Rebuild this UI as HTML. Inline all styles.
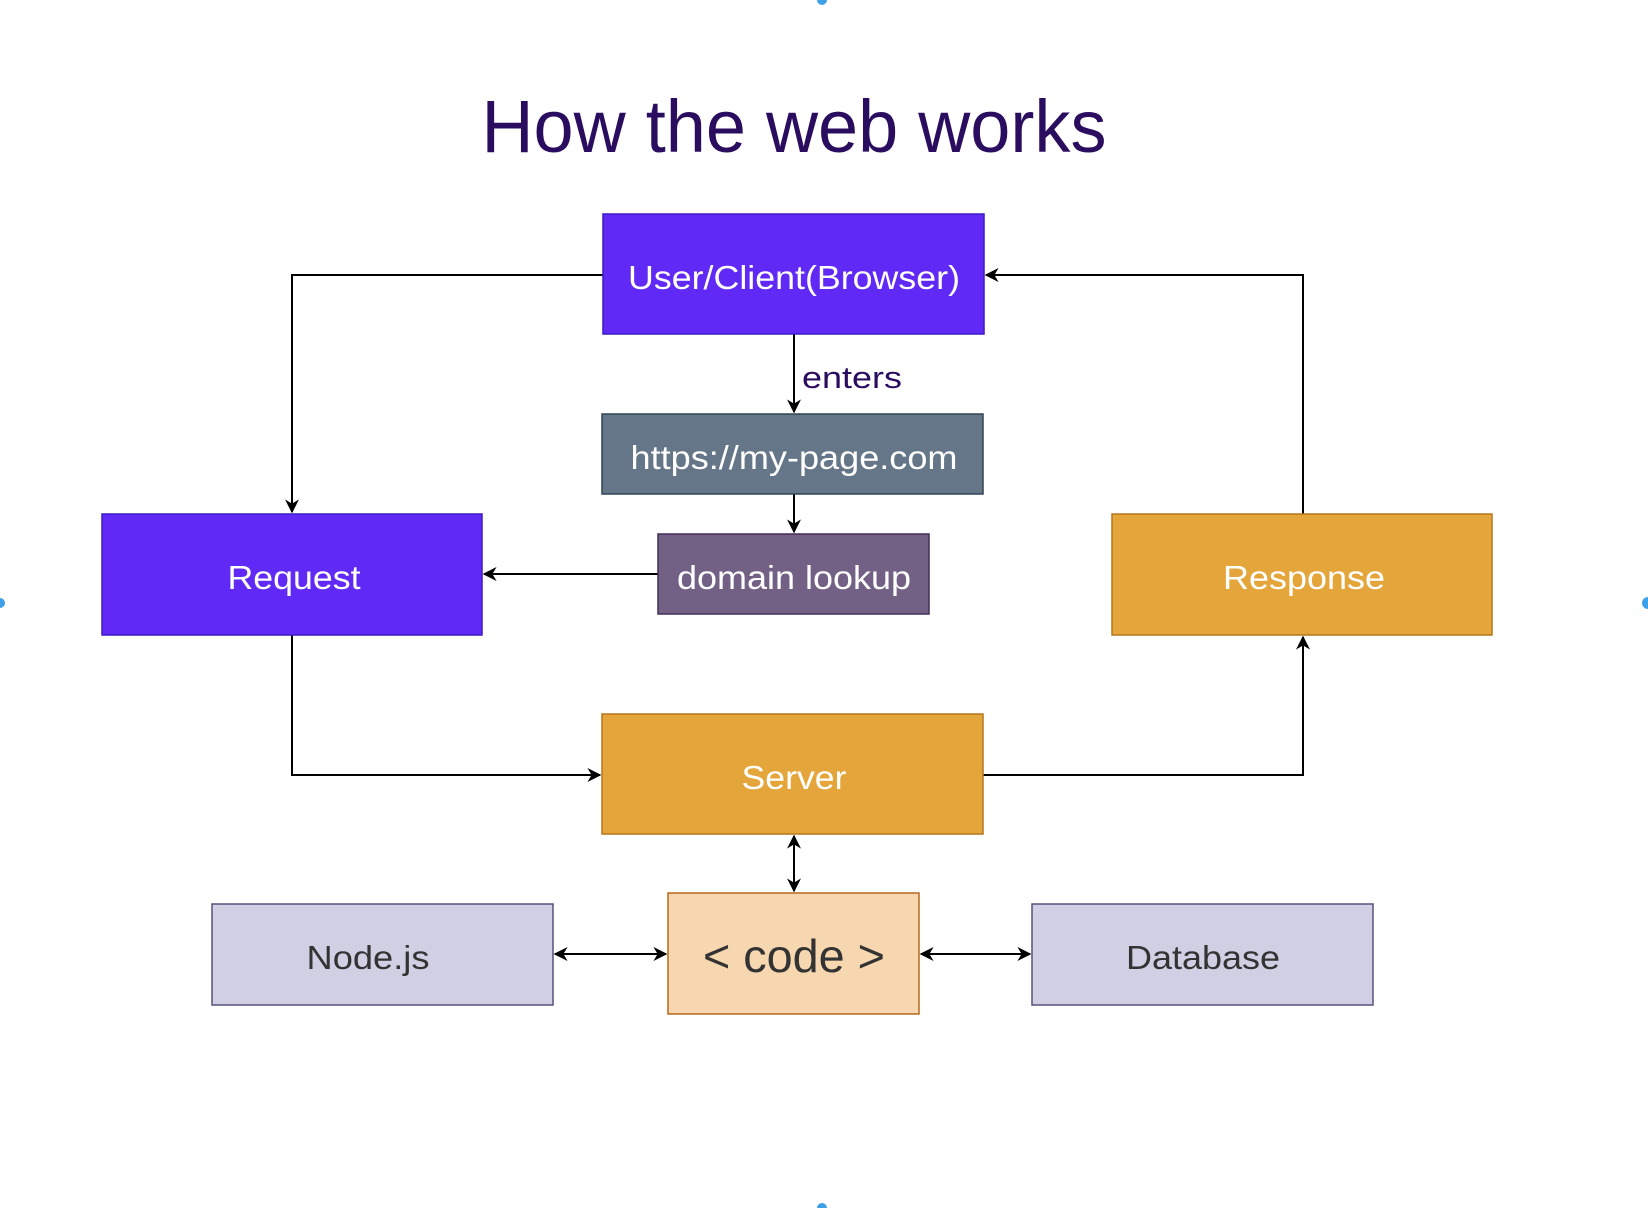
<!DOCTYPE html>
<html><head><style>html,body{margin:0;padding:0;background:#fff}</style></head>
<body>
<svg width="1648" height="1208" viewBox="0 0 1648 1208" xmlns="http://www.w3.org/2000/svg" font-family="Liberation Sans, sans-serif">
<defs>
<marker id="b" viewBox="0 0 10 10" refX="9" refY="5" markerWidth="14" markerHeight="14" orient="auto-start-reverse" markerUnits="userSpaceOnUse"><path d="M0,0 L10,5 L0,10 L3,5 z" fill="#000"/></marker>
</defs>
<circle cx="822" cy="0" r="5" fill="#3ea0e6"/>
<circle cx="822" cy="1208" r="5" fill="#3ea0e6"/>
<circle cx="0" cy="603" r="5" fill="#3ea0e6"/>
<circle cx="1648" cy="603" r="6" fill="#3ea0e6"/>
<text x="794" y="152" font-size="74" fill="#2b0d60" text-anchor="middle" textLength="625" lengthAdjust="spacingAndGlyphs">How the web works</text>
<g fill="none" stroke="#000" stroke-width="2">
<polyline points="625,275 292,275 292,512" marker-end="url(#b)"/>
<polyline points="1303,514 1303,275 986,275" marker-end="url(#b)"/>
<line x1="794" y1="334" x2="794" y2="412" marker-end="url(#b)"/>
<line x1="794" y1="494" x2="794" y2="532" marker-end="url(#b)"/>
<line x1="658" y1="574" x2="484" y2="574" marker-end="url(#b)"/>
<polyline points="292,635 292,775 600,775" marker-end="url(#b)"/>
<polyline points="983,775 1303,775 1303,637" marker-end="url(#b)"/>
<line x1="794" y1="836" x2="794" y2="891" marker-start="url(#b)" marker-end="url(#b)"/>
<line x1="555" y1="954" x2="666" y2="954" marker-start="url(#b)" marker-end="url(#b)"/>
<line x1="921" y1="954" x2="1030" y2="954" marker-start="url(#b)" marker-end="url(#b)"/>
</g>
<rect x="603" y="214" width="381" height="120" fill="#6029f6" stroke="#3a1ac4" stroke-width="1.5"/>
<rect x="602" y="414" width="381" height="80" fill="#647687" stroke="#314354" stroke-width="1.5"/>
<rect x="658" y="534" width="271" height="80" fill="#736185" stroke="#432d57" stroke-width="1.5"/>
<rect x="102" y="514" width="380" height="121" fill="#6029f6" stroke="#3a1ac4" stroke-width="1.5"/>
<rect x="1112" y="514" width="380" height="121" fill="#e4a63b" stroke="#b7771d" stroke-width="1.5"/>
<rect x="602" y="714" width="381" height="120" fill="#e4a63b" stroke="#b7771d" stroke-width="1.5"/>
<rect x="668" y="893" width="251" height="121" fill="#f6d7b0" stroke="#b7691d" stroke-width="1.5"/>
<rect x="212" y="904" width="341" height="101" fill="#d1cfe3" stroke="#56517e" stroke-width="1.5"/>
<rect x="1032" y="904" width="341" height="101" fill="#d1cfe3" stroke="#56517e" stroke-width="1.5"/>
<g font-size="33" fill="#fff" text-anchor="middle" lengthAdjust="spacingAndGlyphs">
<text x="794" y="289" textLength="332" lengthAdjust="spacingAndGlyphs">User/Client(Browser)</text>
<text x="794" y="469" textLength="327" lengthAdjust="spacingAndGlyphs">https://my-page.com</text>
<text x="794" y="589" textLength="234" lengthAdjust="spacingAndGlyphs">domain lookup</text>
<text x="294" y="589" textLength="133" lengthAdjust="spacingAndGlyphs">Request</text>
<text x="1304" y="589" textLength="162" lengthAdjust="spacingAndGlyphs">Response</text>
<text x="794" y="789" textLength="105" lengthAdjust="spacingAndGlyphs">Server</text>
</g>
<text x="802" y="388" font-size="31" fill="#2b0d60" textLength="100" lengthAdjust="spacingAndGlyphs">enters</text>
<text x="794" y="972" font-size="46" fill="#333" text-anchor="middle" textLength="182" lengthAdjust="spacingAndGlyphs">&lt; code &gt;</text>
<text x="368" y="969" font-size="33" fill="#333" text-anchor="middle" textLength="123" lengthAdjust="spacingAndGlyphs">Node.js</text>
<text x="1203" y="969" font-size="33" fill="#333" text-anchor="middle" textLength="154" lengthAdjust="spacingAndGlyphs">Database</text>
</svg>
</body></html>
